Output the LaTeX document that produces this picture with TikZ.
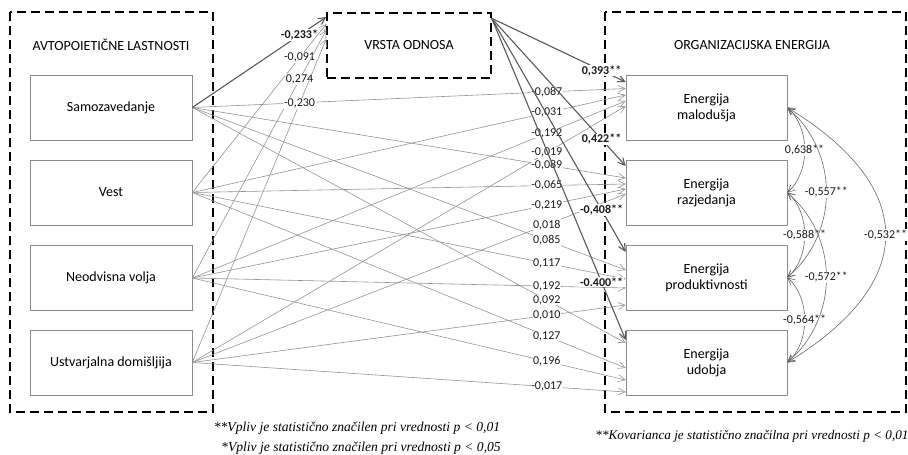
\documentclass[tikz,border=0pt]{standalone}
\usepackage{fontspec}
\setmainfont{Carlito}
\newfontfamily\timesfont{Liberation Serif}
\usetikzlibrary{arrows.meta}

\begin{document}
\begin{tikzpicture}[x=1pt, y=-1pt,
    box/.style={draw=gray!90, line width=0.6pt, minimum width=162pt, minimum height=65pt, align=center, font=\fontsize{14}{16}\selectfont},
    grp/.style={draw=black, line width=1.4pt, dash pattern=on 9pt off 5pt},
    ttl/.style={font=\fontsize{14}{16}\selectfont},
    pth/.style={draw=gray!85, line width=0.6pt, -{Straight Barb[length=7pt,width=7pt]}},
    mpth/.style={draw=black!65, line width=1.1pt, -{Straight Barb[length=7pt,width=7pt]}},
    cov/.style={draw=black!60, line width=0.6pt, {Straight Barb[length=7pt,width=7pt]}-{Straight Barb[length=7pt,width=7pt]}},
    coef/.style={fill=white, inner sep=0.6pt, text=black!90, font=\fontsize{12}{13}\selectfont},
    bcoef/.style={coef, font=\bfseries\fontsize{12}{13}\selectfont},
    note/.style={font=\timesfont\itshape\fontsize{13.6}{15}\selectfont}]
    \useasboundingbox (0,0) rectangle (908,455);

    % skupine (crtkani okvirji)
    \draw[grp] (10,12) rectangle (213,412);
    \draw[grp] (605,12) rectangle (906,412);
    \node[ttl] (tlev) at (111,45) {AVTOPOIETIČNE LASTNOSTI};
    \node[ttl] (tdes) at (752,45) {ORGANIZACIJSKA ENERGIJA};
    \node[draw=black, line width=1.4pt, dash pattern=on 9pt off 5pt, minimum width=164pt, minimum height=65pt, ttl] (vo) at (409,45.5) {VRSTA ODNOSA};

    % avtopoieticne lastnosti
    \node[box] (sam) at (111,107.5) {Samozavedanje};
    \node[box] (ves) at (111,192.5) {Vest};
    \node[box] (neo) at (111,278) {Neodvisna volja};
    \node[box] (ust) at (111,362.5) {Ustvarjalna domišljija};

    % organizacijska energija
    \node[box, minimum width=161pt] (mal) at (706.5,107.5) {Energija\\malodušja};
    \node[box, minimum width=161pt] (raz) at (706.5,192.5) {Energija\\razjedanja};
    \node[box, minimum width=161pt] (pro) at (706.5,277.5) {Energija\\produktivnosti};
    \node[box, minimum width=161pt] (udo) at (706.5,362.5) {Energija\\udobja};

    % neposredni vplivi
    \draw[pth] (sam.east) -- ([yshift=19pt]mal.west) node[coef, pos=0.818] {-0,087};
    \draw[pth] (ves.east) -- ([yshift=12.5pt]mal.west) node[coef, pos=0.818] {-0,031};
    \draw[pth] (neo.east) -- ([yshift=6.5pt]mal.west) node[coef, pos=0.818] {-0,192};
    \draw[pth] (ust.east) -- ([yshift=1.5pt]mal.west) node[coef, pos=0.818] {-0,019};
    \draw[pth] (sam.east) -- ([yshift=14.5pt]raz.west) node[coef, pos=0.818] {-0,089};
    \draw[pth] (ves.east) -- ([yshift=8.5pt]raz.west) node[coef, pos=0.818] {-0,065};
    \draw[pth] (neo.east) -- ([yshift=3.5pt]raz.west) node[coef, pos=0.818] {-0,219};
    \draw[pth] (ust.east) -- ([yshift=-1.5pt]raz.west) node[coef, pos=0.818] {0,018};
    \draw[pth] (sam.east) -- ([yshift=7.5pt]pro.west) node[coef, pos=0.818] {0,085};
    \draw[pth] (ves.east) -- ([yshift=-1.5pt]pro.west) node[coef, pos=0.818] {0,117};
    \draw[pth] (neo.east) -- ([yshift=-10.5pt]pro.west) node[coef, pos=0.818] {0,192};
    \draw[pth] (ust.east) -- ([yshift=-27.5pt]pro.west) node[coef, pos=0.818] {0,010};
    \draw[pth] (sam.east) -- ([yshift=19.5pt]udo.west) node[coef, pos=0.818] {0,092};
    \draw[pth] (ves.east) -- ([yshift=-5.5pt]udo.west) node[coef, pos=0.818] {0,127};
    \draw[pth] (neo.east) -- ([yshift=-17.5pt]udo.west) node[coef, pos=0.818] {0,196};
    \draw[pth] (ust.east) -- ([yshift=-29.5pt]udo.west) node[coef, pos=0.818] {-0,017};

    % vplivi na vrsto odnosa
    \draw[mpth] (sam.east) -- ([yshift=28.5pt]vo.west) node[bcoef, pos=0.8] {-0,233*};
    \draw[pth] (ves.east) -- ([yshift=21.5pt]vo.west) node[coef, pos=0.8] {-0,091};
    \draw[pth] (neo.east) -- ([yshift=15.5pt]vo.west) node[coef, pos=0.8] {0,274};
    \draw[pth] (ust.east) -- ([yshift=6.5pt]vo.west) node[coef, pos=0.8] {-0,230};

    % vrsta odnosa -> energija
    \draw[mpth] ([yshift=-6pt]vo.north east) -- ([yshift=25.5pt]mal.west) node[bcoef, pos=0.82] {0,393**};
    \draw[mpth] ([yshift=-6pt]vo.north east) -- ([yshift=26.5pt]raz.west) node[bcoef, pos=0.82] {0,422**};
    \draw[mpth] ([yshift=-6pt]vo.north east) -- ([yshift=25.5pt]pro.west) node[bcoef, pos=0.82] {-0,408**};
    \draw[mpth] ([yshift=-6pt]vo.north east) -- ([yshift=22.5pt]udo.west) node[bcoef, pos=0.82] {-0.400**};

    % kovariance
    \draw[cov] (mal.east) .. controls +(23,20) and +(23,-20) .. (raz.east) node[coef, midway] {0,638**};
    \draw[cov] (raz.east) .. controls +(23,20) and +(23,-20) .. (pro.east) node[coef, midway] {-0,588**};
    \draw[cov] (pro.east) .. controls +(23,20) and +(23,-20) .. (udo.east) node[coef, midway] {-0,564**};
    \draw[cov] (mal.east) .. controls +(52,45) and +(52,-45) .. (pro.east) node[coef, midway] {-0,557**};
    \draw[cov] (raz.east) .. controls +(52,45) and +(52,-45) .. (udo.east) node[coef, midway] {-0,572**};
    \draw[cov] (mal.east) .. controls +(131,80) and +(131,-80) .. (udo.east) node[coef, midway] {-0,532**};

    % opombe
    \node[note] (op1) at (357,428) {**Vpliv je statistično značilen pri vrednosti p < 0,01};
    \node[note] (op2) at (361,448) {*Vpliv je statistično značilen pri vrednosti p < 0,05};
    \node[note, font=\timesfont\itshape\fontsize{13.2}{15}\selectfont] (op3) at (752,436) {**Kovarianca je statistično značilna pri vrednosti p < 0,01};
\end{tikzpicture}
\end{document}
